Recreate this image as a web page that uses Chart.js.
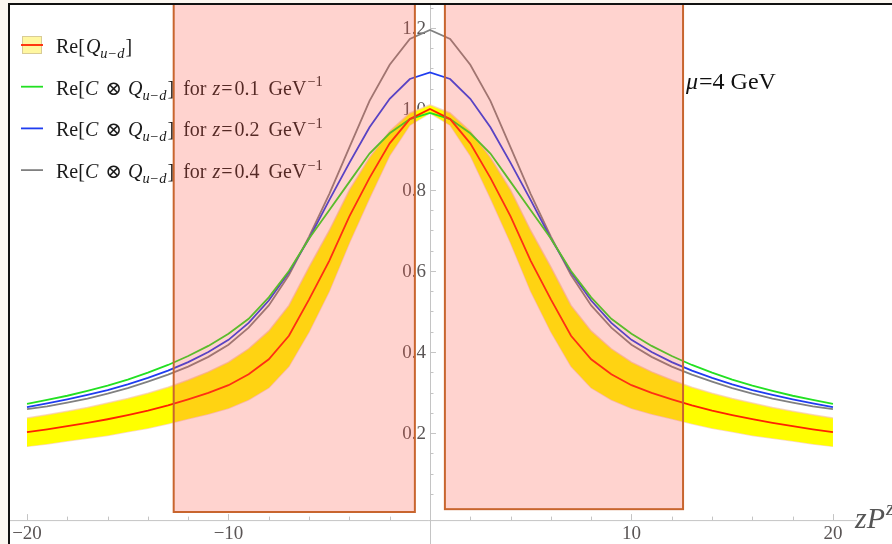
<!DOCTYPE html>
<html>
<head>
<meta charset="utf-8">
<script src="https://cdn.jsdelivr.net/npm/chart.js"></script>
<style>
  body { margin: 0; background: #fff; }
  #wrap { position: relative; width: 892px; height: 544px; }
</style>
</head>
<body>
<div id="wrap"><canvas id="chart"></canvas></div>
<script>
// data (x = zP, y = Re[...])
const xValues = [-20, -19, -18, -17, -16, -15, -14, -13, -12, -11, -10, -9, -8, -7, -6, -5, -4, -3, -2, -1, 0,
                 1, 2, 3, 4, 5, 6, 7, 8, 9, 10, 11, 12, 13, 14, 15, 16, 17, 18, 19, 20];
const qCentral = [0.202, 0.209, 0.217, 0.225, 0.234, 0.244, 0.255, 0.268, 0.283, 0.299, 0.318, 0.345, 0.382, 0.440, 0.530, 0.625, 0.735, 0.830, 0.915, 0.975, 1.000,
                  0.975, 0.915, 0.830, 0.735, 0.625, 0.530, 0.440, 0.382, 0.345, 0.318, 0.299, 0.283, 0.268, 0.255, 0.244, 0.234, 0.225, 0.217, 0.209, 0.202];
const qUpper = [0.237, 0.245, 0.254, 0.263, 0.274, 0.285, 0.298, 0.313, 0.331, 0.351, 0.375, 0.408, 0.452, 0.515, 0.610, 0.700, 0.800, 0.880, 0.945, 0.990, 1.010,
                0.990, 0.945, 0.880, 0.800, 0.700, 0.610, 0.515, 0.452, 0.408, 0.375, 0.351, 0.331, 0.313, 0.298, 0.285, 0.274, 0.263, 0.254, 0.245, 0.237];
const qLower = [0.167, 0.173, 0.180, 0.187, 0.194, 0.203, 0.212, 0.223, 0.235, 0.247, 0.261, 0.282, 0.312, 0.365, 0.450, 0.550, 0.670, 0.780, 0.885, 0.960, 0.990,
                0.960, 0.885, 0.780, 0.670, 0.550, 0.450, 0.365, 0.312, 0.282, 0.261, 0.247, 0.235, 0.223, 0.212, 0.203, 0.194, 0.187, 0.180, 0.173, 0.167];
const cqZ01 = [0.272, 0.282, 0.292, 0.304, 0.317, 0.332, 0.349, 0.368, 0.390, 0.415, 0.445, 0.482, 0.535, 0.600, 0.680, 0.750, 0.820, 0.890, 0.940, 0.975, 0.990,
               0.975, 0.940, 0.890, 0.820, 0.750, 0.680, 0.600, 0.535, 0.482, 0.445, 0.415, 0.390, 0.368, 0.349, 0.332, 0.317, 0.304, 0.292, 0.282, 0.272];
const cqZ02 = [0.264, 0.273, 0.283, 0.294, 0.306, 0.320, 0.336, 0.354, 0.375, 0.400, 0.430, 0.472, 0.527, 0.597, 0.680, 0.775, 0.867, 0.955, 1.025, 1.074, 1.090,
               1.074, 1.025, 0.955, 0.867, 0.775, 0.680, 0.597, 0.527, 0.472, 0.430, 0.400, 0.375, 0.354, 0.336, 0.320, 0.306, 0.294, 0.283, 0.273, 0.264];
const cqZ04 = [0.259, 0.266, 0.275, 0.285, 0.297, 0.311, 0.327, 0.344, 0.364, 0.388, 0.418, 0.460, 0.515, 0.590, 0.685, 0.790, 0.905, 1.020, 1.109, 1.173, 1.195,
               1.173, 1.109, 1.020, 0.905, 0.790, 0.685, 0.590, 0.515, 0.460, 0.418, 0.388, 0.364, 0.344, 0.327, 0.311, 0.297, 0.285, 0.275, 0.266, 0.259];

const xTicks = [-20, -10, 10, 20];
const xTickLabels = ['\u221220', '\u221210', '10', '20'];
const yTicks = [0.2, 0.4, 0.6, 0.8, 1.0, 1.2];
const yTickLabels = ['0.2', '0.4', '0.6', '0.8', '1.0', '1.2'];

// shaded windows [xmin, xmax, ymin, ymax]
const boxLeft = [-12.72, -0.75, 0.005, 1.27];
const boxRight = [0.74, 12.56, 0.012, 1.27];

const SERIF = '"Liberation Serif", "DejaVu Serif", serif';
const xAxisAt = -0.015;

const pts = ys => xValues.map((x, i) => ({ x: x, y: ys[i] }));

// draw a run of text pieces (italic / sub / sup, dx = extra gap before piece)
function drawRuns(ctx, x, y, runs, size, color) {
    ctx.fillStyle = color;
    ctx.textAlign = 'left';
    ctx.textBaseline = 'alphabetic';
    runs.forEach(r => {
        let s = size, dy = 0;
        if (r.sub) { s = size * 0.72; dy = size * 0.25; }
        if (r.sup) { s = size * 0.72; dy = -size * 0.42; }
        x += r.dx || 0;
        ctx.font = (r.i ? 'italic ' : '') + s + 'px ' + SERIF;
        ctx.fillText(r.t, x, y + dy);
        x += ctx.measureText(r.t).width;
    });
    return x;
}

function cqRuns(zval) {
    return [{ t: 'Re[' }, { t: 'C', i: true }, { t: ' \u2297 ', dx: 2 }, { t: 'Q', i: true, dx: 1 }, { t: 'u\u2212d', i: true, sub: true },
            { t: ']', dx: 1 }, { t: ' for ', dx: 4 }, { t: 'z', i: true, dx: 1 }, { t: '=', dx: 1 }, { t: zval, dx: 2 },
            { t: ' GeV', dx: 4 }, { t: '\u22121', sup: true, dx: 1 }];
}

const legendItems = [
    { color: '#ff2200', band: true, runs: [{ t: 'Re[' }, { t: 'Q', i: true, dx: 1 }, { t: 'u\u2212d', i: true, sub: true }, { t: ']', dx: 1 }] },
    { color: '#22e022', runs: cqRuns('0.1') },
    { color: '#1f3df0', runs: cqRuns('0.2') },
    { color: '#808080', runs: cqRuns('0.4') }
];

const axesPlugin = {
    id: 'axesPlugin',
    beforeDatasetsDraw(chart) {
        const ctx = chart.ctx;
        const xs = chart.scales.x, ys = chart.scales.y;
        const x0 = xs.getPixelForValue(0);
        const yAx = ys.getPixelForValue(xAxisAt);
        ctx.save();
        ctx.strokeStyle = '#c4c4c4';
        ctx.lineWidth = 1;
        // x axis
        ctx.beginPath();
        ctx.moveTo(xs.getPixelForValue(-21.5), yAx + 0.5);
        ctx.lineTo(xs.getPixelForValue(21.2), yAx + 0.5);
        ctx.stroke();
        for (let v = -20; v <= 20; v += 2) {
            if (v === 0) continue;
            const px = Math.round(xs.getPixelForValue(v)) + 0.5;
            const len = (v % 10 === 0) ? 6 : 3.5;
            ctx.beginPath();
            ctx.moveTo(px, yAx);
            ctx.lineTo(px, yAx - len);
            ctx.stroke();
        }
        // y axis
        ctx.beginPath();
        ctx.moveTo(Math.round(x0) + 0.5, 0);
        ctx.lineTo(Math.round(x0) + 0.5, chart.height);
        ctx.stroke();
        for (let k = 1; k <= 25; k++) {
            const v = k * 0.05;
            const py = Math.round(ys.getPixelForValue(v)) + 0.5;
            const len = (k % 4 === 0) ? 6 : 3.5;
            ctx.beginPath();
            ctx.moveTo(x0, py);
            ctx.lineTo(x0 + len, py);
            ctx.stroke();
        }
        // tick labels
        ctx.fillStyle = '#5a5555';
        ctx.font = '19px ' + SERIF;
        ctx.textAlign = 'center';
        ctx.textBaseline = 'top';
        xTicks.forEach((v, i) => ctx.fillText(xTickLabels[i], xs.getPixelForValue(v), yAx + 4));
        ctx.textAlign = 'right';
        ctx.textBaseline = 'middle';
        yTicks.forEach((v, i) => ctx.fillText(yTickLabels[i], x0 - 4, ys.getPixelForValue(v) + 1));

        // legend
        legendItems.forEach((it, i) => {
            const cy = 45 + i * 41.7;
            if (it.band) {
                ctx.fillStyle = '#fff7a0';
                ctx.fillRect(22, cy - 9, 20, 18);
                ctx.strokeStyle = '#d9cc96';
                ctx.lineWidth = 1;
                ctx.strokeRect(22.5, cy - 8.5, 19, 17);
            }
            ctx.strokeStyle = it.color;
            ctx.lineWidth = 1.8;
            ctx.beginPath();
            ctx.moveTo(21, cy);
            ctx.lineTo(43, cy);
            ctx.stroke();
            drawRuns(ctx, 56, cy + 8, it.runs, 20, '#1a1a1a');
        });
        ctx.restore();
    },
    afterDatasetsDraw(chart) {
        const ctx = chart.ctx;
        const xs = chart.scales.x, ys = chart.scales.y;
        ctx.save();
        [boxLeft, boxRight].forEach(b => {
            const l = xs.getPixelForValue(b[0]), r = xs.getPixelForValue(b[1]);
            const t = ys.getPixelForValue(b[3]), btm = ys.getPixelForValue(b[2]);
            ctx.fillStyle = 'rgba(255, 85, 70, 0.26)';
            ctx.fillRect(l, t, r - l, btm - t);
            ctx.strokeStyle = '#c8652e';
            ctx.lineWidth = 2;
            ctx.strokeRect(l, t, r - l, btm - t);
        });
        ctx.restore();
    },
    afterDraw(chart) {
        const ctx = chart.ctx;
        ctx.save();
        // annotation and axis label
        drawRuns(ctx, 686, 89, [{ t: '\u03bc', i: true }, { t: '=4 GeV', dx: 1 }], 24, '#111');
        drawRuns(ctx, 855, 528, [{ t: 'zP', i: true }, { t: 'z', i: true, sup: true, dx: 1 }], 30, '#555');
        // frame
        ctx.fillStyle = '#fbf7f1';
        ctx.fillRect(0, 0, 8, chart.height);
        ctx.fillRect(0, 0, chart.width, 3);
        ctx.fillStyle = '#111';
        ctx.fillRect(8, 3, 2, chart.height - 3);
        ctx.fillRect(8, 3, chart.width - 8, 2);
        ctx.restore();
    }
};

const bgPlugin = {
    id: 'bgPlugin',
    beforeDraw(chart) {
        chart.ctx.save();
        chart.ctx.fillStyle = '#fff';
        chart.ctx.fillRect(0, 0, chart.width, chart.height);
        chart.ctx.restore();
    }
};

const lineStyle = { pointRadius: 0, tension: 0, borderWidth: 1.8, fill: false };
const bandEdge = 'rgba(248, 200, 175, 0.7)';

new Chart(document.getElementById('chart'), {
    type: 'line',
    data: {
        datasets: [
            Object.assign({ label: 'Re[Q]', data: pts(qCentral), borderColor: '#ff2200' }, lineStyle),
            Object.assign({ label: 'z=0.1', data: pts(cqZ01), borderColor: '#22e022' }, lineStyle),
            Object.assign({ label: 'z=0.2', data: pts(cqZ02), borderColor: '#1f3df0' }, lineStyle),
            Object.assign({ label: 'z=0.4', data: pts(cqZ04), borderColor: '#808080' }, lineStyle),
            { label: 'upper', data: pts(qUpper), borderColor: bandEdge, borderWidth: 1.5, pointRadius: 0, tension: 0,
              fill: '+1', backgroundColor: '#ffff00' },
            { label: 'lower', data: pts(qLower), borderColor: bandEdge, borderWidth: 1.5, pointRadius: 0, tension: 0, fill: false }
        ]
    },
    options: {
        responsive: true,
        maintainAspectRatio: false,
        animation: false,
        layout: { padding: 0 },
        scales: {
            x: { type: 'linear', min: -21.34, max: 22.93, display: false },
            y: { type: 'linear', min: -0.074, max: 1.269, display: false }
        },
        plugins: {
            legend: { display: false },
            tooltip: { enabled: false }
        }
    },
    plugins: [bgPlugin, axesPlugin]
});
</script>
</body>
</html>
